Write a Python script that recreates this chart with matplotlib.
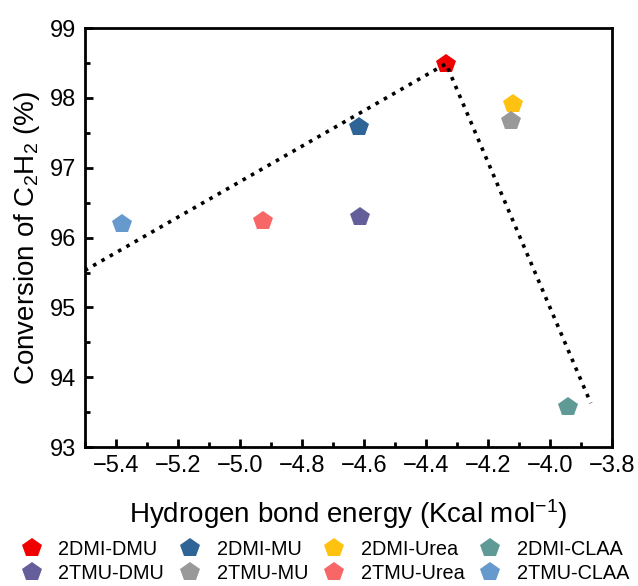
import matplotlib
matplotlib.use("Agg")
import matplotlib.pyplot as plt
from matplotlib.ticker import MultipleLocator, FuncFormatter

plt.rcParams['font.family'] = ['Liberation Sans', 'DejaVu Sans']
plt.rcParams['mathtext.fontset'] = 'custom'
plt.rcParams['mathtext.rm'] = 'Liberation Sans'
plt.rcParams['mathtext.it'] = 'Liberation Sans:italic'

# Systems: hydrogen bond energy (kcal/mol) vs. C2H2 conversion (%)
labels = ["2DMI-DMU", "2DMI-MU", "2DMI-Urea", "2DMI-CLAA",
          "2TMU-DMU", "2TMU-MU", "2TMU-Urea", "2TMU-CLAA"]
energy = [-4.335, -4.617, -4.118, -3.943,
          -4.611, -4.125, -4.925, -5.379]
conversion = [98.49, 97.58, 97.91, 93.57,
              96.29, 97.67, 96.24, 96.19]
colors = ["#F00000", "#2E6496", "#FFC211", "#5F9A97",
          "#645F9A", "#999999", "#F86768", "#6699CC"]

# Guide line through the optimum
trend_x = [-5.5, -4.335, -3.868]
trend_y = [95.53, 98.49, 93.63]

fig = plt.figure(figsize=(6.38, 5.86), dpi=100)
ax = fig.add_axes([0.133, 0.237, 0.826, 0.715])

ax.plot(trend_x, trend_y, linestyle=':', color='black', linewidth=2.6, zorder=3)

handles = []
for lab, x, y, c in zip(labels, energy, conversion, colors):
    h, = ax.plot([x], [y], linestyle='none', marker='p', markersize=14.5,
                 color=c, markeredgewidth=0, label=lab, zorder=2)
    handles.append(h)

ax.set_xlim(-5.5, -3.8)
ax.set_ylim(93, 99)
ax.xaxis.set_major_locator(MultipleLocator(0.2))
ax.xaxis.set_minor_locator(MultipleLocator(0.1))
ax.yaxis.set_major_locator(MultipleLocator(1))
ax.yaxis.set_minor_locator(MultipleLocator(0.5))
ax.tick_params(axis='both', which='major', direction='in', length=6, width=2,
               labelsize=17, pad=6)
ax.tick_params(axis='both', which='minor', direction='in', length=3.5, width=2)
ax.xaxis.set_major_formatter(FuncFormatter(
    lambda v, p: f"{v:.1f}".replace('-', '\u2212')))
for s in ax.spines.values():
    s.set_linewidth(2)

ax.set_xlabel("Hydrogen bond energy (Kcal mol$^{-1}$)", fontsize=20, labelpad=14)
ax.set_ylabel("Conversion of C$_2$H$_2$ (%)", fontsize=20, labelpad=6)

order = [0, 4, 1, 5, 2, 6, 3, 7]
fig.legend([handles[i] for i in order], [labels[i] for i in order],
           loc='center', bbox_to_anchor=(0.508, 0.042), ncol=4, frameon=False,
           fontsize=14.3, handletextpad=0.7, columnspacing=0.65, labelspacing=0.25,
           handlelength=1.3, borderaxespad=0)

fig.savefig("out.png", dpi=100)
